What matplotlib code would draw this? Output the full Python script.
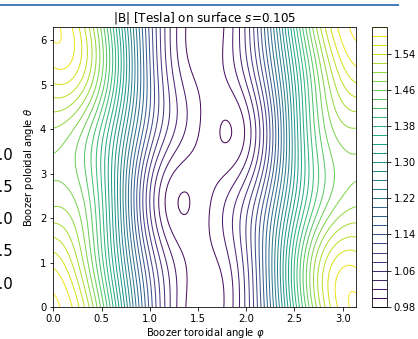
import numpy as np
import matplotlib
matplotlib.use("Agg")
import matplotlib.pyplot as plt

# Boozer |B| Fourier harmonics (nfp = 2): B = sum bmnc * cos(m*theta - n*nfp*phi)
nfp = 2
xm = [0, 0, 0, 0,
      1, 1, 1, 1, 1, 1, 1,
      2, 2, 2, 2, 2]
xn = [0, 1, 2, 3,
      0, 1, -1, 2, -2, 3, -3,
      0, 1, -1, 2, -2]
bmnc = [1.25222, 0.28836, 0.01328, -0.01386,
        0.03078, -0.00171, 0.02829, 0.00211, -0.00289, 0.00321, 0.00321,
        -0.002, 0.001, 0.001, -0.0064, 0.0064]

levels = [0.98 + 0.02 * i for i in range(32)]
cbar_ticks = [0.98, 1.06, 1.14, 1.22, 1.30, 1.38, 1.46, 1.54]
side_labels = ["1.0", "0.5", "0.0", "0.5", "1.0"]

W, H, DPI = 418, 339, 72
fig = plt.figure(figsize=(W / DPI, H / DPI), dpi=DPI)

phi = np.linspace(0, np.pi, 400)
theta = np.linspace(0, 2 * np.pi, 500)
PHI, THETA = np.meshgrid(phi, theta)
B = np.zeros_like(PHI)
for m, n, b in zip(xm, xn, bmnc):
    B += b * np.cos(m * THETA - n * nfp * PHI)

ax = fig.add_axes([53.3 / W, 1 - 307.3 / H, 303.1 / W, 279.9 / H])
cs = ax.contour(PHI, THETA, B, levels=levels, cmap="viridis", linewidths=1.0)
ax.set_xlim(0, np.pi)
ax.set_ylim(0, 2 * np.pi)
ax.set_xticks([0, 0.5, 1.0, 1.5, 2.0, 2.5, 3.0])
ax.set_yticks([0, 1, 2, 3, 4, 5, 6])
ax.tick_params(labelsize=10)
ax.set_xlabel(r"Boozer toroidal angle $\varphi$", fontsize=10, labelpad=2)
ax.set_ylabel(r"Boozer poloidal angle $\theta$", fontsize=10)
ax.set_title(r"|B| [Tesla] on surface $s$=0.105", fontsize=12)

cax = fig.add_axes([372.3 / W, 1 - 306.7 / H, 14.4 / W, 280.0 / H])
cb = fig.colorbar(cs, cax=cax)
cb.set_ticks(cbar_ticks)
cb.ax.set_yticklabels([f"{t:.2f}" for t in cbar_ticks])
cb.ax.tick_params(labelsize=10)

# decorations from the surrounding page
fig.add_artist(plt.Line2D([0, 398 / W], [1 - 5 / H, 1 - 5 / H], color="#4a7ebb", lw=2))
for i, t in enumerate(side_labels):
    fig.text(13 / W, 1 - (155 + 32.3 * i) / H, t, ha="right", va="center", fontsize=15)

fig.savefig("out.png", dpi=DPI)
